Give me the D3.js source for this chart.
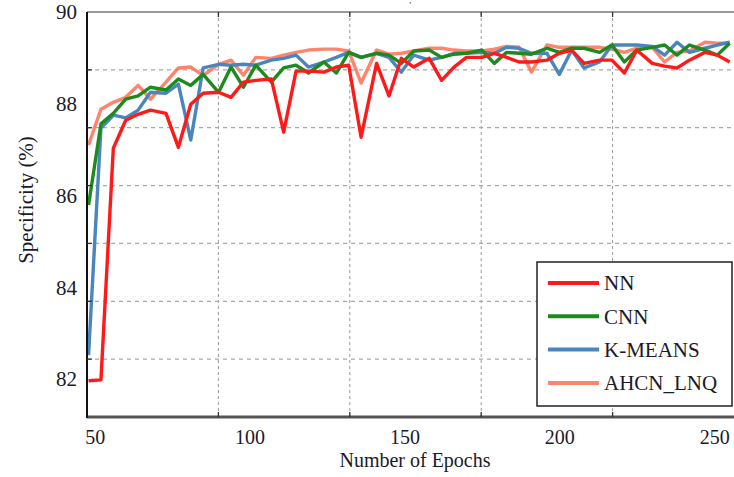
<!DOCTYPE html>
<html>
<head>
<meta charset="utf-8">
<script src="https://cdn.jsdelivr.net/npm/d3@7"></script>
<style>
  body { margin: 0; background: #fff; }
  svg text { font-family: "Liberation Serif", "DejaVu Serif", serif; fill: #1a1a2a; }
</style>
</head>
<body>
<div id="chart"></div>
<script>
// Data
const epochs = [48, 52, 56, 60, 64, 68, 73, 77, 81, 85,
    90, 94, 98, 102, 107, 111, 115, 119, 124, 128,
    132, 136, 141, 145, 149, 153, 158, 162, 166, 170,
    175, 179, 183, 187, 191, 196, 200, 204, 208, 213,
    217, 221, 225, 230, 234, 238, 242, 247, 251, 255];

const nnValues = [82.03, 82.05, 87.10, 87.71, 87.84, 87.93, 87.86, 87.12, 88.06, 88.30,
    88.32, 88.21, 88.54, 88.58, 88.61, 87.45, 88.78, 88.78, 88.76, 88.87,
    88.91, 87.34, 88.95, 88.24, 89.06, 88.87, 89.06, 88.58, 88.87, 89.08,
    89.08, 89.17, 89.08, 88.98, 88.98, 89.02, 89.17, 89.24, 88.95, 89.02,
    89.02, 88.74, 89.24, 88.95, 88.89, 88.85, 89.02, 89.19, 89.13, 88.98];

const cnnValues = [85.86, 87.63, 87.86, 88.17, 88.24, 88.43, 88.37, 88.61, 88.47, 88.71,
    88.32, 88.87, 88.43, 88.91, 88.54, 88.85, 88.91, 88.74, 88.98, 88.74,
    89.19, 89.08, 89.17, 89.13, 88.95, 89.22, 89.24, 89.08, 89.15, 89.17,
    89.24, 88.95, 89.19, 89.17, 89.15, 89.28, 89.19, 89.28, 89.28, 89.19,
    89.35, 88.98, 89.24, 89.30, 89.35, 89.13, 89.35, 89.24, 89.13, 89.39];

const kmeansValues = [82.59, 87.54, 87.82, 87.76, 87.93, 88.32, 88.30, 88.50, 87.28, 88.85,
    88.93, 88.91, 88.93, 88.91, 89.02, 89.06, 89.13, 88.87, 88.98, 89.08,
    89.19, 89.08, 89.17, 89.08, 88.76, 89.13, 89.02, 89.08, 89.17, 89.17,
    89.19, 89.17, 89.30, 89.28, 89.17, 89.17, 88.71, 89.24, 88.85, 88.98,
    89.35, 89.35, 89.35, 89.32, 89.13, 89.41, 89.19, 89.28, 89.35, 89.41];

const ahcnValues = [87.17, 87.95, 88.10, 88.21, 88.47, 88.17, 88.54, 88.85, 88.87, 88.69,
    88.93, 89.02, 88.69, 89.08, 89.06, 89.13, 89.19, 89.24, 89.26, 89.26,
    89.22, 88.52, 89.24, 89.15, 89.17, 89.22, 89.28, 89.28, 89.24, 89.22,
    89.22, 89.26, 89.32, 89.30, 88.76, 89.35, 89.30, 89.30, 89.30, 89.30,
    89.26, 89.19, 89.28, 89.30, 88.98, 89.19, 89.22, 89.41, 89.39, 89.39];

const seriesNames = ["NN", "CNN", "K-MEANS", "AHCN_LNQ"];
const seriesColors = ["#ff1a1a", "#1e8a1e", "#4a86bd", "#ff6e55"];
const xTicks = [50, 100, 150, 200, 250];
const yTicks = [82, 84, 86, 88, 90];

const totalWidth = 734, totalHeight = 477;
const plot = {left: 87, right: 734, top: 12, bottom: 417};

const svg = d3.select("#chart")
    .append("svg")
    .attr("width", totalWidth)
    .attr("height", totalHeight);

svg.append("rect")
    .attr("width", totalWidth)
    .attr("height", totalHeight)
    .attr("fill", "#fff");

// Scales
const x = d3.scaleLinear().domain([47.5, 256.4]).range([plot.left, plot.right]);
const y = d3.scaleLinear().domain([81.24, 90.07]).range([plot.bottom, plot.top]);

// the grid in the original does not line up with the tick labels
const gridX = d3.scaleLinear().domain([0, 5]).range([plot.left, 744]);
const gridY = d3.scaleLinear().domain([0, 7]).range([plot.top, plot.bottom]);

// Grid
svg.append("g").selectAll("line")
    .data(d3.range(1, 5))
    .join("line")
    .attr("x1", d => gridX(d)).attr("x2", d => gridX(d))
    .attr("y1", plot.top).attr("y2", plot.bottom)
    .attr("stroke", "#9a9a9a")
    .attr("stroke-width", 1)
    .attr("stroke-dasharray", "3,3");

svg.append("g").selectAll("line")
    .data(d3.range(1, 7))
    .join("line")
    .attr("x1", plot.left).attr("x2", plot.right)
    .attr("y1", d => gridY(d)).attr("y2", d => gridY(d))
    .attr("stroke", "#a8a8a8")
    .attr("stroke-width", 1.2)
    .attr("stroke-dasharray", "4,4");

// Clip for the lines
svg.append("clipPath")
    .attr("id", "plot-clip")
    .append("rect")
    .attr("x", plot.left)
    .attr("y", plot.top)
    .attr("width", plot.right - plot.left)
    .attr("height", plot.bottom - plot.top);

const series = [ahcnValues, kmeansValues, cnnValues, nnValues];
const seriesIdx = [3, 2, 1, 0]; // draw order: AHCN first, NN on top

const line = d3.line()
    .x((d, i) => x(epochs[i]))
    .y(d => y(d));

svg.append("g")
    .attr("clip-path", "url(#plot-clip)")
    .selectAll("path")
    .data(series)
    .join("path")
    .attr("d", d => line(d))
    .attr("fill", "none")
    .attr("stroke", (d, i) => seriesColors[seriesIdx[i]])
    .attr("stroke-opacity", (d, i) => seriesIdx[i] === 3 ? 0.85 : 1)
    .attr("stroke-width", 3.4)
    .attr("stroke-linejoin", "round");

// Frame
svg.append("line")
    .attr("x1", plot.left).attr("x2", plot.right)
    .attr("y1", plot.top).attr("y2", plot.top)
    .attr("stroke", "#777").attr("stroke-width", 1.5);

svg.append("line")
    .attr("x1", plot.left).attr("x2", plot.right)
    .attr("y1", plot.bottom).attr("y2", plot.bottom)
    .attr("stroke", "#555").attr("stroke-width", 3);

svg.append("line")
    .attr("x1", plot.left).attr("x2", plot.left)
    .attr("y1", plot.top).attr("y2", plot.bottom + 1)
    .attr("stroke", "#111").attr("stroke-width", 2);

// small tick marks at the grid positions
const tickMarks = svg.append("g").attr("stroke", "#333").attr("stroke-width", 1.3);
d3.range(1, 5).forEach(k => {
    tickMarks.append("line")
        .attr("x1", gridX(k)).attr("x2", gridX(k))
        .attr("y1", plot.bottom).attr("y2", plot.bottom - 5);
    tickMarks.append("line")
        .attr("x1", gridX(k)).attr("x2", gridX(k))
        .attr("y1", plot.top).attr("y2", plot.top + 5);
});
d3.range(1, 7).forEach(k => {
    tickMarks.append("line")
        .attr("x1", plot.left).attr("x2", plot.left + 5)
        .attr("y1", gridY(k)).attr("y2", gridY(k));
});

// Tick labels through d3 axes
const xAxis = svg.append("g")
    .attr("transform", `translate(0,${plot.bottom})`)
    .call(d3.axisBottom(x).tickValues(xTicks).tickSize(0).tickPadding(13));
xAxis.select(".domain").remove();
xAxis.selectAll("text")
    .style("font-size", "20px")
    .style("font-family", "'Liberation Serif', serif")
    .attr("fill", "#1a1a2a");

const yAxis = svg.append("g")
    .attr("transform", `translate(${plot.left},-3)`)
    .call(d3.axisLeft(y).tickValues(yTicks).tickSize(0).tickPadding(10));
yAxis.select(".domain").remove();
yAxis.selectAll("text")
    .style("font-size", "21px")
    .style("font-family", "'Liberation Serif', serif")
    .attr("fill", "#1a1a2a");

// Axis titles
svg.append("text")
    .attr("x", 415)
    .attr("y", 467)
    .attr("text-anchor", "middle")
    .style("font-size", "20px")
    .text("Number of Epochs");

svg.append("text")
    .attr("transform", "translate(33,200) rotate(-90)")
    .attr("text-anchor", "middle")
    .style("font-size", "21px")
    .text("Specificity (%)");

// stray mark left over from the cropped title
svg.append("text")
    .attr("x", 410)
    .attr("y", 8)
    .attr("text-anchor", "middle")
    .style("font-size", "8px")
    .text("ʼ");

// Legend
const legend = svg.append("g").attr("transform", "translate(537,262)");
legend.append("rect")
    .attr("width", 195)
    .attr("height", 144)
    .attr("fill", "#fff")
    .attr("stroke", "#222")
    .attr("stroke-width", 1.5);

const legendRow = legend.selectAll("g.row")
    .data(seriesNames)
    .join("g")
    .attr("class", "row")
    .attr("transform", (d, i) => `translate(0,${21 + i * 33.3})`);

legendRow.append("line")
    .attr("x1", 11).attr("x2", 62)
    .attr("stroke", (d, i) => seriesColors[i])
    .attr("stroke-opacity", (d, i) => i === 3 ? 0.85 : 1)
    .attr("stroke-width", 4);

legendRow.append("text")
    .attr("x", 67)
    .attr("dy", "0.35em")
    .style("font-size", "21px")
    .text(d => d);
</script>
</body>
</html>
